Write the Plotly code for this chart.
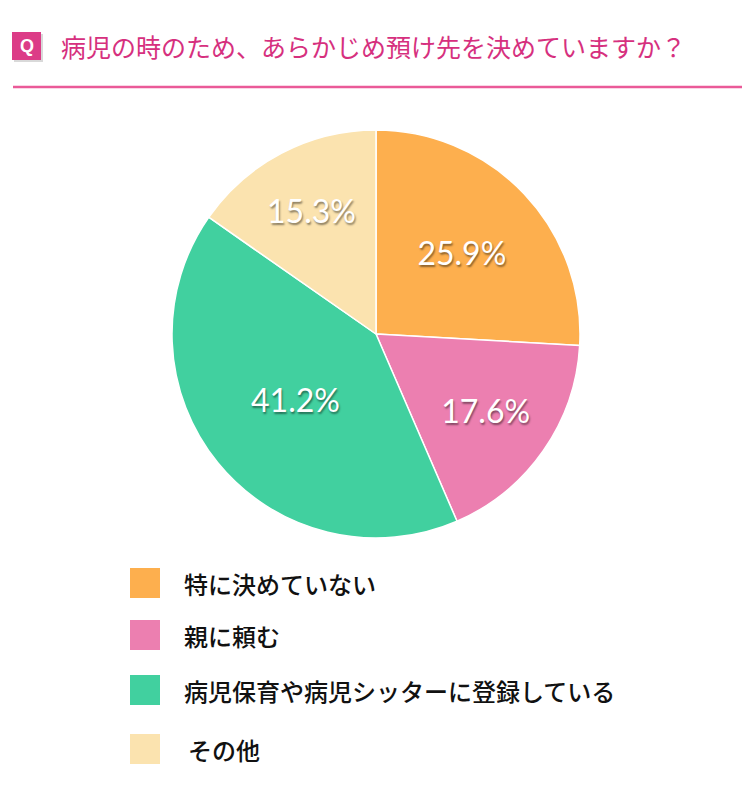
import plotly.graph_objects as go

categories = ["特に決めていない", "親に頼む", "病児保育や病児シッターに登録している", "その他"]
values = [25.9, 17.6, 41.2, 15.3]
colors = ["#FDAF4E", "#EC7FB0", "#41D09F", "#FBE3AF"]
title_text = "病児の時のため、あらかじめ預け先を決めていますか？"

W, H = 754, 800
fig = go.Figure()
fig.add_trace(go.Pie(
    labels=categories, values=values, sort=False, direction="clockwise", rotation=0,
    marker=dict(colors=colors, line=dict(color="white", width=1.5)),
    texttemplate="%{value:.1f}%", textinfo="text", textposition="inside",
    insidetextorientation="horizontal",
    textfont=dict(family="Lato, Roboto, sans-serif", size=32, color="white",
                  shadow="1px 2px 2px rgba(0,0,0,0.45)"),
    domain=dict(x=[(376-204)/W, (376+204)/W], y=[1-538/H, 1-130/H]),
    showlegend=False, hoverinfo="skip",
))

shapes = []
annotations = []
# Q box
shapes.append(dict(type="rect", xref="paper", yref="paper", x0=14/W, x1=43/W, y0=1-62/H, y1=1-34/H,
                   fillcolor="rgba(0,0,0,0.15)", line=dict(width=0), layer="below"))
shapes.append(dict(type="rect", xref="paper", yref="paper", x0=12/W, x1=41/W, y0=1-60/H, y1=1-32/H,
                   fillcolor="#DC3C87", line=dict(width=0)))
annotations.append(dict(text="<b>Q</b>", x=26.5/W, y=1-46/H, xref="paper", yref="paper", showarrow=False,
                        font=dict(family="Liberation Sans, Arial", size=18, color="white"),
                        xanchor="center", yanchor="middle"))
annotations.append(dict(text=title_text, x=59/W, y=1-46/H, xref="paper", yref="paper", showarrow=False,
                        font=dict(family="Noto Sans CJK JP", size=25, color="#D6307E"),
                        xanchor="left", yanchor="middle"))
shapes.append(dict(type="line", xref="paper", yref="paper", x0=13/W, x1=742/W, y0=1-87/H, y1=1-87/H,
                   line=dict(color="#EA5A98", width=2.5)))

# legend
leg_y = [583, 635, 690, 749]
leg_x = [182, 182, 182, 186]
for cat, col, yy, xx in zip(categories, colors, leg_y, leg_x):
    shapes.append(dict(type="rect", xref="paper", yref="paper", x0=130/W, x1=160/W,
                       y0=1-(yy+15)/H, y1=1-(yy-15)/H, fillcolor=col, line=dict(width=0)))
    annotations.append(dict(text=cat, x=xx/W, y=1-yy/H, xref="paper", yref="paper", showarrow=False,
                            font=dict(family="Noto Sans CJK JP", size=24, color="#111111", weight=500),
                            xanchor="left", yanchor="middle"))

fig.update_layout(width=W, height=H, margin=dict(l=0, r=0, t=0, b=0),
                  paper_bgcolor="white", plot_bgcolor="white",
                  shapes=shapes, annotations=annotations)
fig.write_html("out.html")
